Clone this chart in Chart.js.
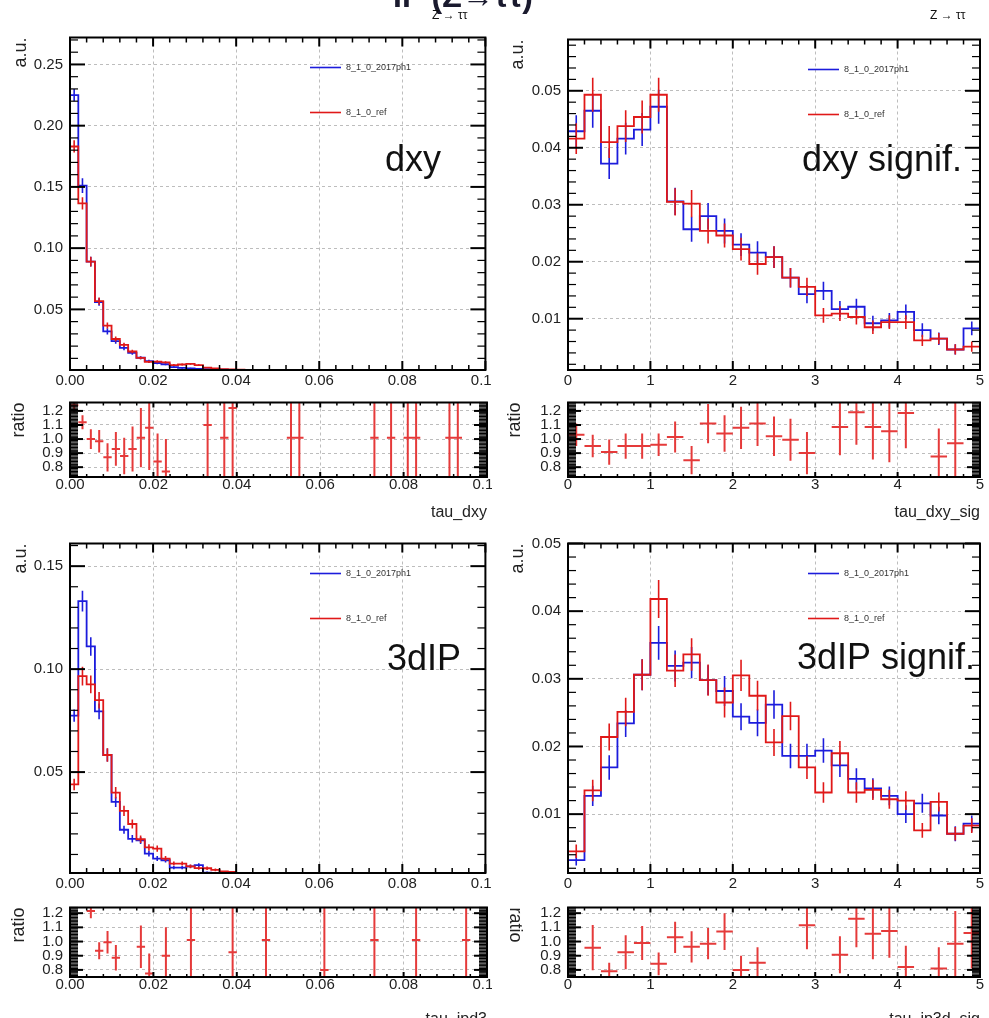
<!DOCTYPE html>
<html>
<head>
<meta charset="utf-8">
<script src="https://cdn.jsdelivr.net/npm/chart.js@4.4.1/dist/chart.umd.min.js"></script>
<style>
  html, body { margin: 0; padding: 0; background: #fff; width: 989px; height: 1018px; overflow: hidden; }
  canvas { position: absolute; }
  .txt { position: absolute; font-family: 'Liberation Sans', Arial, sans-serif; color: #111; white-space: nowrap; z-index: 4; }
  #mask { position: absolute; left: 492px; top: 0; width: 497px; height: 1018px; background: #fff; z-index: 2; }
</style>
</head>
<body>
<div class="txt" style="left:393px; top:-20px; font-size:32px; line-height:32px; font-weight:bold; color:#1a1a2e;">IP (Z→ττ)</div>
<div class="txt" style="left:432px; top:8px; font-size:12px;">Z → ττ</div>
<div class="txt" style="left:930px; top:8px; font-size:12px;">Z → ττ</div>
<div id="mask"></div>
<script>
const FONT = "'Liberation Sans', Arial, Helvetica, sans-serif";
const BLUE = '#1c1cdc', RED = '#e01818', RATIO_RED = '#e53a3a';

const seriesNames = ['8_1_0_2017ph1', '8_1_0_ref'];

// tau_dxy : 50 bins over [0, 0.1]
const dxyRange = [0, 0.1];
const dxyBlue = [0.225, 0.151, 0.089, 0.056, 0.032, 0.024, 0.0185, 0.0145, 0.0105, 0.0078, 0.0062, 0.0052,
  0.0028, 0.0022, 0.0018, 0.0014, 0.0012, 0.0010, 0.0008, 0.0006, 0.0005, 0.0004, 0.0003, 0.0003, 0.0002, 0.0002, 0.0002, 0.0002,
  0.0001, 0.0001, 0.0001, 0.0001, 0.0001, 0.0001, 0.0001, 0.0001, 0.0001, 0.0001, 0.0001, 0.0001, 0.0001,
  0.0001, 0.0001, 0.0001, 0.0001, 0.0001, 0.0001, 0.0001, 0.0001, 0.0001];
const dxyBlueErr = [0.005, 0.006, 0.004, 0.003, 0.0025, 0.002, 0.0018, 0.0015, 0.0013, 0.0011, 0.001, 0.0009, 0.0007, 0.0006, 0.0006, 0.0005];
const dxyRed = [0.183, 0.1365, 0.089, 0.0568, 0.0368, 0.0258, 0.021, 0.0156, 0.0104, 0.0072, 0.0074, 0.0068,
  0.0045, 0.0050, 0.0055, 0.0045, 0.0025, 0.0018, 0.0012, 0.0009, 0.0007, 0.0005, 0.0004, 0.0003, 0.0003, 0.0002, 0.0002, 0.0002,
  0.0001, 0.0001, 0.0001, 0.0001, 0.0001, 0.0001, 0.0001, 0.0001, 0.0001, 0.0001, 0.0001, 0.0001, 0.0001,
  0.0001, 0.0001, 0.0001, 0.0001, 0.0001, 0.0001, 0.0001, 0.0001, 0.0001];
const dxyRedErr = [0.005, 0.005, 0.004, 0.003, 0.0025, 0.002, 0.0018, 0.0015, 0.0012, 0.001, 0.001, 0.0009, 0.0008, 0.0008, 0.0008, 0.0007];
const dxyRatio = [1.24, 1.12, 1.00, 0.985, 0.87, 0.93, 0.88, 0.93, 1.01, 1.08, 0.84, 0.77,
  null, null, null, null, 1.10, null, 1.01, 1.22, null, null, null, null, null, null, 1.01, 1.01,
  null, null, null, null, null, null, null, null, 1.01, null, 1.01, null, 1.01, 1.01,
  null, null, null, 1.01, 1.01, null, null, null];
const dxyRatioErr = [0.05, 0.05, 0.07, 0.08, 0.1, 0.12, 0.13, 0.16, 0.21, 0.3, 0.2, 0.23,
  0, 0, 0, 0, 0.6, 0, 0.6, 0.6, 0, 0, 0, 0, 0, 0, 0.6, 0.6,
  0, 0, 0, 0, 0, 0, 0, 0, 0.6, 0, 0.6, 0, 0.6, 0.6,
  0, 0, 0, 0.6, 0.6, 0, 0, 0];

// tau_dxy_sig : 25 bins over [0, 5]
const dxySigRange = [0, 5];
const dxySigBlue = [0.0429, 0.0465, 0.0372, 0.0416, 0.0432, 0.0472, 0.0306, 0.0257, 0.0280, 0.0254, 0.0230, 0.0216, 0.0208,
  0.0172, 0.0143, 0.0149, 0.0117, 0.0121, 0.0092, 0.0097, 0.0112, 0.0080, 0.0065, 0.0046, 0.0083];
const dxySigBlueErr = [0.0028, 0.003, 0.0027, 0.0028, 0.0029, 0.003, 0.0024, 0.0022, 0.0023, 0.0022, 0.002, 0.002, 0.0019,
  0.0017, 0.0016, 0.0016, 0.0014, 0.0014, 0.0013, 0.0013, 0.0013, 0.0012, 0.0011, 0.0009, 0.0012];
const dxySigRed = [0.0416, 0.0493, 0.0410, 0.0438, 0.0454, 0.0493, 0.0305, 0.0302, 0.0254, 0.0246, 0.0222, 0.0196, 0.0208,
  0.0172, 0.0156, 0.0106, 0.0109, 0.0103, 0.0085, 0.0094, 0.0094, 0.0062, 0.0065, 0.0046, 0.0051];
const dxySigRedErr = [0.0027, 0.003, 0.0028, 0.0028, 0.0029, 0.003, 0.0024, 0.0024, 0.0022, 0.0021, 0.002, 0.0019, 0.0019,
  0.0017, 0.0016, 0.0013, 0.0013, 0.0013, 0.0012, 0.0012, 0.0012, 0.001, 0.001, 0.0009, 0.0009];
const dxySigRatio = [1.03, 0.95, 0.907, 0.95, 0.95, 0.96, 1.015, 0.85, 1.11, 1.04, 1.08, 1.11, 1.02,
  0.995, 0.90, null, 1.085, 1.19, 1.085, 1.055, 1.185, null, 0.875, 0.97, null];
const dxySigRatioErr = [0.08, 0.08, 0.09, 0.09, 0.09, 0.08, 0.11, 0.1, 0.14, 0.13, 0.15, 0.16, 0.14,
  0.15, 0.15, 0, 0.2, 0.23, 0.23, 0.22, 0.25, 0, 0.2, 0.3, 0];

// tau_ipd3 : 50 bins over [0, 0.1]
const ip3dRange = [0, 0.1];
const ip3dBlue = [0.0774, 0.133, 0.111, 0.0795, 0.0583, 0.0355, 0.022, 0.0176, 0.0168, 0.0104, 0.0080, 0.0072,
  0.0036, 0.0036, 0.0042, 0.0048, 0.0012, 0.0009, 0.0007, 0.0006, 0.0004, 0.0003, 0.0003, 0.0002,
  0.0001, 0.0001, 0.0001, 0.0001, 0.0001, 0.0001, 0.0001, 0.0001, 0.0001, 0.0001, 0.0001, 0.0001, 0.0001,
  0.0001, 0.0001, 0.0001, 0.0001, 0.0001, 0.0001, 0.0001, 0.0001, 0.0001, 0.0001, 0.0001, 0.0001, 0.0001];
const ip3dBlueErr = [0.003, 0.005, 0.0045, 0.0038, 0.0032, 0.0025, 0.002, 0.0018, 0.0017, 0.0014, 0.0012, 0.0011, 0.0008, 0.0008, 0.0008, 0.0009, 0.0005];
const ip3dRed = [0.044, 0.0966, 0.0926, 0.0849, 0.0583, 0.040, 0.0312, 0.0248, 0.0174, 0.0134, 0.0128, 0.0080,
  0.0056, 0.0056, 0.0042, 0.0034, 0.0033, 0.0025, 0.0018, 0.0015, 0.0010, 0.0008, 0.0006, 0.0005,
  0.0004, 0.0003, 0.0003, 0.0002, 0.0001, 0.0001, 0.0001, 0.0001, 0.0001, 0.0001, 0.0001, 0.0001, 0.0001,
  0.0001, 0.0001, 0.0001, 0.0001, 0.0001, 0.0001, 0.0001, 0.0001, 0.0001, 0.0001, 0.0001, 0.0001, 0.0001];
const ip3dRedErr = [0.0028, 0.0045, 0.0043, 0.004, 0.0033, 0.0028, 0.0025, 0.0022, 0.0018, 0.0016, 0.0015, 0.0012, 0.001, 0.001, 0.0009, 0.0008, 0.0008, 0.0007];
const ip3dRatio = [null, null, 1.215, 0.935, 0.995, 0.886, null, null, 0.963, 0.775,
  null, 0.90, null, null, 1.01, null, null, null, null, 0.925,
  null, null, null, 1.01, null, null, null, null, null, null,
  0.80, null, null, null, null, null, 1.01, null, null, null,
  null, 1.01, null, null, null, null, null, 1.01, null, null];
const ip3dRatioErr = [0, 0, 0.05, 0.06, 0.08, 0.09, 0, 0, 0.15, 0.14,
  0, 0.2, 0, 0, 0.6, 0, 0, 0, 0, 0.6,
  0, 0, 0, 0.6, 0, 0, 0, 0, 0, 0,
  0.6, 0, 0, 0, 0, 0, 0.6, 0, 0, 0,
  0, 0.6, 0, 0, 0, 0, 0, 0.6, 0, 0];

// tau_ip3d_sig : 25 bins over [0, 5]
const ip3dSigRange = [0, 5];
const ip3dSigBlue = [0.0032, 0.0127, 0.0169, 0.0234, 0.0306, 0.0353, 0.0319, 0.0324, 0.0298, 0.0282, 0.0244, 0.0235, 0.0262,
  0.0186, 0.0186, 0.0194, 0.0172, 0.0152, 0.0138, 0.0127, 0.0100, 0.0116, 0.0098, 0.0071, 0.0086];
const ip3dSigBlueErr = [0.0008, 0.0015, 0.0018, 0.002, 0.0023, 0.0025, 0.0023, 0.0023, 0.0022, 0.0022, 0.002, 0.002, 0.0021,
  0.0018, 0.0018, 0.0018, 0.0017, 0.0016, 0.0015, 0.0014, 0.0013, 0.0014, 0.0013, 0.0011, 0.0012];
const ip3dSigRed = [0.0045, 0.0135, 0.0214, 0.0251, 0.0306, 0.0418, 0.0312, 0.0336, 0.0298, 0.0265, 0.0305, 0.0275, 0.0206,
  0.0245, 0.0169, 0.0132, 0.0190, 0.0132, 0.0136, 0.0122, 0.0120, 0.0076, 0.0118, 0.0071, 0.0083];
const ip3dSigRedErr = [0.001, 0.0016, 0.002, 0.0021, 0.0023, 0.0028, 0.0024, 0.0024, 0.0023, 0.0022, 0.0023, 0.0022, 0.002,
  0.0021, 0.0017, 0.0015, 0.0018, 0.0015, 0.0015, 0.0014, 0.0014, 0.0011, 0.0014, 0.001, 0.0011];
const ip3dSigRatio = [null, 0.957, 0.79, 0.925, 0.99, 0.843, 1.03, 0.963, 0.985, 1.07, 0.80, 0.85, null,
  null, 1.115, null, 0.907, 1.16, 1.055, 1.075, 0.82, null, 0.81, 0.985, 1.06];
const ip3dSigRatioErr = [0, 0.16, 0.06, 0.12, 0.12, 0.08, 0.11, 0.11, 0.11, 0.13, 0.1, 0.11, 0,
  0, 0.17, 0, 0.13, 0.2, 0.18, 0.19, 0.15, 0, 0.15, 0.23, 0.25];

// --- helpers turning bin contents into points on the linear x scale ---
function stepPts(range, vals, base) {
  const w = (range[1] - range[0]) / vals.length;
  const pts = [{x: range[0], y: base}];
  vals.forEach((v, i) => pts.push({x: range[0] + i * w, y: v}));
  pts.push({x: range[1], y: vals[vals.length - 1]});
  return pts;
}
function errPts(range, vals, errs) {
  const w = (range[1] - range[0]) / vals.length;
  const pts = [];
  vals.forEach((v, i) => {
    if (v == null || !errs[i]) return;
    const c = range[0] + (i + 0.5) * w;
    pts.push({x: c, y: v - errs[i]}, {x: c, y: v + errs[i]}, {x: c, y: null});
  });
  return pts;
}
function crossPts(range, vals, errs) {
  const w = (range[1] - range[0]) / vals.length;
  const pts = [];
  vals.forEach((v, i) => {
    if (v == null) return;
    const lo = range[0] + i * w, c = lo + w / 2, e = errs[i] || 0;
    pts.push({x: c, y: v - e}, {x: c, y: v + e}, {x: c, y: null});
    pts.push({x: lo, y: v}, {x: lo + w, y: v}, {x: c, y: null});
  });
  return pts;
}

// ROOT-like frame: inward ticks on all sides, legend, big label
const rootFrame = {
  id: 'rootFrame',
  afterDatasetsDraw(chart, args, o) {
    const {ctx, chartArea: a} = chart;
    const xs = chart.scales.x, ys = chart.scales.y;
    ctx.save();
    ctx.strokeStyle = '#000';
    const seg = (x1, y1, x2, y2) => { ctx.beginPath(); ctx.moveTo(x1, y1); ctx.lineTo(x2, y2); ctx.stroke(); };
    const marks = (sc, major, minor) => {
      const out = [];
      const n0 = Math.ceil(sc.min / minor - 1e-6), n1 = Math.floor(sc.max / minor + 1e-6);
      for (let n = n0; n <= n1; n++) {
        const r = n * minor / major;
        out.push({p: sc.getPixelForValue(n * minor), major: Math.abs(r - Math.round(r)) < 1e-6});
      }
      return out;
    };
    marks(xs, o.xMajor, o.xMinor).forEach(m => {
      const len = m.major ? o.xTick[0] : o.xTick[1];
      ctx.lineWidth = m.major ? 2 : 1.5;
      seg(m.p, a.bottom, m.p, a.bottom - len);
      seg(m.p, a.top, m.p, a.top + len);
    });
    marks(ys, o.yMajor, o.yMinor).forEach(m => {
      const len = m.major ? o.yTick[0] : o.yTick[1];
      ctx.lineWidth = m.major ? 2 : 1.2;
      seg(a.left, m.p, a.left + len, m.p);
      seg(a.right, m.p, a.right - len, m.p);
    });
    ctx.lineWidth = 2;
    ctx.strokeRect(a.left, a.top, a.right - a.left, a.bottom - a.top);

    if (o.legend) {
      ctx.font = '9px ' + FONT;
      ctx.textBaseline = 'middle';
      o.legend.forEach((it, k) => {
        const yy = a.top + o.legendY[k];
        ctx.strokeStyle = it.color; ctx.lineWidth = 1.6;
        seg(a.left + 240, yy, a.left + 271, yy);
        ctx.fillStyle = '#333';
        ctx.fillText(it.text, a.left + 276, yy);
      });
    }
    if (o.label) {
      ctx.font = '36px ' + FONT;
      ctx.fillStyle = '#111';
      ctx.textBaseline = 'alphabetic';
      ctx.fillText(o.label, a.left + o.labelPos[0], a.top + o.labelPos[1]);
    }
    if (o.flipTitle) {
      // this pad's y title is written the other way round in the reference
      ctx.translate(o.flipTitle[1], a.top);
      ctx.rotate(Math.PI / 2);
      ctx.font = '18px ' + FONT;
      ctx.fillStyle = '#222';
      ctx.textAlign = 'left';
      ctx.textBaseline = 'middle';
      ctx.fillText(o.flipTitle[0], 0, 0);
    }
    ctx.restore();
  }
};

function axis(range, major, digits, pad, title) {
  return {
    type: 'linear', min: range[0], max: range[1],
    afterBuildTicks: s => {
      const out = [];
      const n0 = Math.ceil(s.min / major - 1e-6), n1 = Math.floor(s.max / major + 1e-6);
      for (let n = n0; n <= n1; n++) out.push({value: n * major});
      s.ticks = out;
    },
    grid: {color: '#bdbdbd', lineWidth: 1, drawTicks: false},
    border: {display: false, dash: [3, 3]},
    ticks: {stepSize: major, autoSkip: false, maxRotation: 0, padding: pad, color: '#222',
      font: {family: FONT, size: 15, lineHeight: 1}, callback: v => Number(v).toFixed(digits)},
    title: title || {display: false}
  };
}
function yTitle(text, padTop) {
  return {display: true, text, align: 'end', color: '#222', font: {family: FONT, size: 18}, padding: {top: padTop, bottom: 0}};
}
function xTitle(text) {
  return {display: true, text, align: 'end', color: '#222', font: {family: FONT, size: 16}, padding: {top: 0, bottom: 0}};
}

function makeChart(area, pad, z, datasets, scales, frame) {
  const [l, t, r, b] = area, [pl, pt, pr, pb] = pad;
  const cv = document.createElement('canvas');
  cv.width = r - l + pl + pr;
  cv.height = b - t + pt + pb;
  cv.style.left = (l - pl) + 'px';
  cv.style.top = (t - pt) + 'px';
  cv.style.zIndex = z;
  document.body.appendChild(cv);
  scales.x.afterFit = s => { s.height = pb; };
  scales.y.afterFit = s => { s.width = pl; };
  return new Chart(cv, {
    type: 'line',
    data: {datasets},
    options: {
      responsive: false, animation: false, devicePixelRatio: 1, events: [],
      layout: {autoPadding: false, padding: {left: 0, top: pt, right: pr, bottom: 0}},
      elements: {point: {radius: 0}, line: {tension: 0}},
      plugins: {legend: {display: false}, tooltip: {enabled: false}, rootFrame: frame},
      scales
    },
    plugins: [rootFrame]
  });
}

function histSets(range, base, blue, blueErr, red, redErr) {
  return [
    {data: stepPts(range, red, base), borderColor: RED, borderWidth: 1.8, stepped: true},
    {data: errPts(range, red, redErr), borderColor: RED, borderWidth: 1.6},
    {data: stepPts(range, blue, base), borderColor: BLUE, borderWidth: 1.8, stepped: true},
    {data: errPts(range, blue, blueErr), borderColor: BLUE, borderWidth: 1.6}
  ];
}
function ratioSets(range, vals, errs) {
  return [{data: crossPts(range, vals, errs), borderColor: RATIO_RED, borderWidth: 2}];
}

const legendItems = [{text: seriesNames[0], color: BLUE}, {text: seriesNames[1], color: RED}];

function drawPair(opt) {
  const isLeft = opt.main[0] < 400;
  const pl = isLeft ? 70 : 76, pr = isLeft ? 16 : 9;
  const z = isLeft ? 1 : 3;
  const xd = opt.xMajor < 0.1 ? 2 : 0;
  makeChart(opt.main, [pl, 12, pr, 22], z,
    histSets(opt.range, opt.yRange[0], opt.blue, opt.blueErr, opt.red, opt.redErr),
    {x: axis(opt.range, opt.xMajor, xd, 3), y: Object.assign(axis(opt.yRange, opt.yMajor, 2, 7), {title: yTitle('a.u.', isLeft ? 10 : 15)})},
    {xMajor: opt.xMajor, xMinor: opt.xMinor, yMajor: opt.yMajor, yMinor: opt.yMinor, xTick: [9, 5], yTick: [15, 8],
      legend: legendItems, legendY: [30, 75], label: opt.label, labelPos: opt.labelPos});
  const ry = axis(opt.rRange, 0.1, 1, 7);
  if (!opt.flip) ry.title = yTitle('ratio', isLeft ? 8 : 12);
  makeChart(opt.ratio, [pl, 8, pr, opt.ratioPadB], z,
    ratioSets(opt.range, opt.rVals, opt.rErr),
    {x: axis(opt.range, opt.xMajor, xd, 0, xTitle(opt.xTitle)), y: ry},
    {xMajor: opt.xMajor, xMinor: opt.xMinor, yMajor: 0.1, yMinor: 0.01, xTick: [5, 3], yTick: [13, 8],
      flipTitle: opt.flip ? ['ratio', 23] : null});
}

drawPair({main: [70, 35, 487, 370], ratio: [70, 396, 487, 477], ratioPadB: 45, range: dxyRange, yRange: [0.0005, 0.272],
  xMajor: 0.02, xMinor: 0.004, yMajor: 0.05, yMinor: 0.01, blue: dxyBlue, blueErr: dxyBlueErr, red: dxyRed, redErr: dxyRedErr,
  rVals: dxyRatio, rErr: dxyRatioErr, rRange: [0.73, 1.26], label: 'dxy', labelPos: [315, 133], xTitle: 'tau_dxy'});
drawPair({main: [70, 541, 487, 873], ratio: [70, 901, 487, 977], ratioPadB: 52, range: ip3dRange, yRange: [0.001, 0.161],
  xMajor: 0.02, xMinor: 0.004, yMajor: 0.05, yMinor: 0.01, blue: ip3dBlue, blueErr: ip3dBlueErr, red: ip3dRed, redErr: ip3dRedErr,
  rVals: ip3dRatio, rErr: ip3dRatioErr, rRange: [0.75, 1.24], label: '3dIP', labelPos: [317, 126], xTitle: 'tau_ipd3'});
drawPair({main: [568, 37, 980, 370], ratio: [568, 396, 980, 477], ratioPadB: 45, range: dxySigRange, yRange: [0.001, 0.059],
  xMajor: 1, xMinor: 0.2, yMajor: 0.01, yMinor: 0.002, blue: dxySigBlue, blueErr: dxySigBlueErr, red: dxySigRed, redErr: dxySigRedErr,
  rVals: dxySigRatio, rErr: dxySigRatioErr, rRange: [0.73, 1.26], label: 'dxy signif.', labelPos: [234, 131], xTitle: 'tau_dxy_sig'});
drawPair({main: [568, 541, 980, 873], ratio: [568, 901, 980, 977], ratioPadB: 52, range: ip3dSigRange, yRange: [0.0013, 0.05],
  xMajor: 1, xMinor: 0.2, yMajor: 0.01, yMinor: 0.002, blue: ip3dSigBlue, blueErr: ip3dSigBlueErr, red: ip3dSigRed, redErr: ip3dSigRedErr,
  rVals: ip3dSigRatio, rErr: ip3dSigRatioErr, rRange: [0.75, 1.24], label: '3dIP signif.', labelPos: [229, 125], xTitle: 'tau_ip3d_sig', flip: true});
</script>
</body>
</html>
